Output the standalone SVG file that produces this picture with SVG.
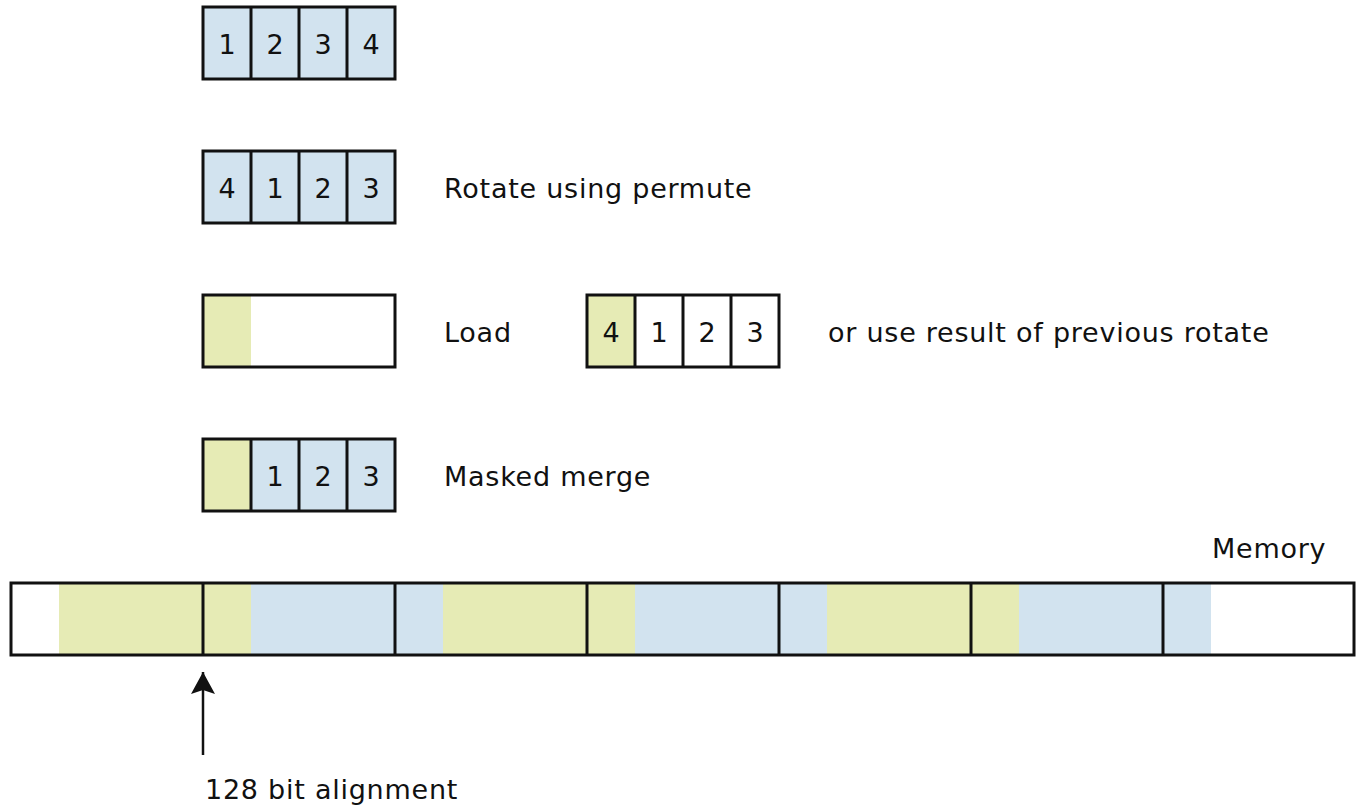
<svg xmlns="http://www.w3.org/2000/svg" width="1358" height="807" viewBox="0 0 1358 807">
<style>
.b{fill:#d2e3ef}.g{fill:#e6ebb5}.w{fill:#ffffff}
.o{fill:none;stroke:#111;stroke-width:3}
.l{stroke:#111;stroke-width:3}
.a{stroke:#111;stroke-width:2.5}
text{font-family:"DejaVu Sans","Liberation Sans",sans-serif;font-size:27px;fill:#111;letter-spacing:0.75px}
.d{text-anchor:middle;letter-spacing:0}
</style>
<defs>
<marker id="ah" markerWidth="24" markerHeight="24" refX="22" refY="12" orient="auto" markerUnits="userSpaceOnUse">
<path d="M0,0 L22,12 L0,24 L4,12 Z" fill="#111"/>
</marker>
</defs>
<rect x="0" y="0" width="1358" height="807" fill="#fff"/>
<g id="row1">
<rect class="b" x="203" y="7" width="192" height="72"/>
<rect class="o" x="203" y="7" width="192" height="72"/>
<line class="l" x1="251" y1="7" x2="251" y2="79"/><line class="l" x1="299" y1="7" x2="299" y2="79"/><line class="l" x1="347" y1="7" x2="347" y2="79"/>
<text class="d" x="227" y="54">1</text><text class="d" x="275" y="54">2</text><text class="d" x="323" y="54">3</text><text class="d" x="371" y="54">4</text>
</g>
<g id="row2">
<rect class="b" x="203" y="151" width="192" height="72"/>
<rect class="o" x="203" y="151" width="192" height="72"/>
<line class="l" x1="251" y1="151" x2="251" y2="223"/><line class="l" x1="299" y1="151" x2="299" y2="223"/><line class="l" x1="347" y1="151" x2="347" y2="223"/>
<text class="d" x="227" y="198">4</text><text class="d" x="275" y="198">1</text><text class="d" x="323" y="198">2</text><text class="d" x="371" y="198">3</text>
<text x="444" y="198">Rotate using permute</text>
</g>
<g id="row3">
<rect class="w" x="203" y="295" width="192" height="72"/>
<rect class="g" x="203" y="295" width="48" height="72"/>
<rect class="o" x="203" y="295" width="192" height="72"/>
<text x="444" y="342">Load</text>
</g>
<g id="row3b">
<rect class="w" x="587" y="295" width="192" height="72"/>
<rect class="g" x="587" y="295" width="48" height="72"/>
<rect class="o" x="587" y="295" width="192" height="72"/>
<line class="l" x1="635" y1="295" x2="635" y2="367"/><line class="l" x1="683" y1="295" x2="683" y2="367"/><line class="l" x1="731" y1="295" x2="731" y2="367"/>
<text class="d" x="611" y="342">4</text><text class="d" x="659" y="342">1</text><text class="d" x="707" y="342">2</text><text class="d" x="755" y="342">3</text>
<text x="828" y="342">or use result of previous rotate</text>
</g>
<g id="row4">
<rect class="b" x="203" y="439" width="192" height="72"/>
<rect class="g" x="203" y="439" width="48" height="72"/>
<rect class="o" x="203" y="439" width="192" height="72"/>
<line class="l" x1="251" y1="439" x2="251" y2="511"/><line class="l" x1="299" y1="439" x2="299" y2="511"/><line class="l" x1="347" y1="439" x2="347" y2="511"/>
<text class="d" x="275" y="486">1</text><text class="d" x="323" y="486">2</text><text class="d" x="371" y="486">3</text>
<text x="444" y="486">Masked merge</text>
</g>
<g id="memory">
<rect class="g" x="59" y="583" width="192" height="72"/>
<rect class="b" x="251" y="583" width="192" height="72"/>
<rect class="g" x="443" y="583" width="192" height="72"/>
<rect class="b" x="635" y="583" width="192" height="72"/>
<rect class="g" x="827" y="583" width="192" height="72"/>
<rect class="b" x="1019" y="583" width="192" height="72"/>
<rect class="o" x="11" y="583" width="1343" height="72"/>
<line class="l" x1="203" y1="583" x2="203" y2="655"/><line class="l" x1="395" y1="583" x2="395" y2="655"/><line class="l" x1="587" y1="583" x2="587" y2="655"/><line class="l" x1="779" y1="583" x2="779" y2="655"/><line class="l" x1="971" y1="583" x2="971" y2="655"/><line class="l" x1="1163" y1="583" x2="1163" y2="655"/>
<text x="1212" y="558">Memory</text>
</g>
<g id="connectors">
<line class="a" x1="203" y1="755" x2="203" y2="672" marker-end="url(#ah)"/>
</g>
<g id="label">
<text x="205" y="799">128 bit alignment</text>
</g>
</svg>
